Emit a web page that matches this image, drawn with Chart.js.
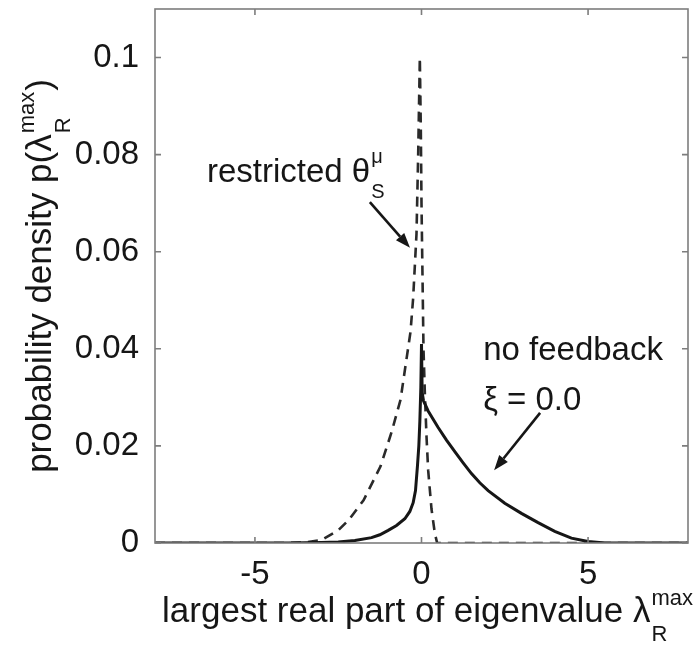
<!DOCTYPE html>
<html>
<head>
<meta charset="utf-8">
<script src="https://cdn.jsdelivr.net/npm/chart.js@4.4.1/dist/chart.umd.min.js"></script>
<style>
  html, body { margin: 0; padding: 0; background: #ffffff; }
  canvas { display: block; }
</style>
</head>
<body>
<canvas id="c" width="699" height="645"></canvas>
<script>
// ---- data ----
const xTickValues = [-5, 0, 5];
const xTickLabels = ['-5', '0', '5'];
const yTickValues = [0, 0.02, 0.04, 0.06, 0.08, 0.1];
const yTickLabels = ['0', '0.02', '0.04', '0.06', '0.08', '0.1'];

// solid curve: no feedback, xi = 0.0
const noFeedbackX = [-8, -4, -3, -2.5, -2, -1.5, -1.25, -1, -0.75, -0.5, -0.35, -0.25, -0.18, -0.12, -0.08, -0.05, -0.02, 0,
                     0.02, 0.06, 0.2, 0.5, 0.75, 1.0, 1.25, 1.5, 1.75, 2.0, 2.5, 3.0, 3.5, 4.0, 4.5, 5.0, 5.5, 8];
const noFeedbackY = [0, 0, 0.0001, 0.0002, 0.0005, 0.0011, 0.0017, 0.0026, 0.0036, 0.0050, 0.0065, 0.0083, 0.0108, 0.016, 0.020, 0.025, 0.032, 0.041,
                     0.031, 0.0293, 0.0272, 0.0238, 0.0212, 0.0188, 0.0165, 0.0143, 0.0124, 0.0108, 0.0082, 0.0061, 0.0042, 0.0024, 0.0010, 0.0003, 0, 0];

// dashed curve: restricted theta_S^mu
const restrictedX = [-8, -4, -3.5, -3, -2.5, -2.19, -1.74, -1.23, -0.9, -0.63, -0.48, -0.33, -0.25, -0.15, -0.1, -0.05,
                     -0.02, 0.0, 0.03, 0.06, 0.1, 0.15, 0.2, 0.3, 0.4, 0.47, 8];
const restrictedY = [0, 0, 0.0001, 0.0006, 0.0026, 0.0047, 0.0088, 0.0158, 0.0228, 0.0295, 0.0365, 0.0435, 0.0505, 0.0637, 0.08, 0.1,
                     0.085, 0.07, 0.055, 0.04, 0.031, 0.022, 0.015, 0.007, 0.002, 0, 0];

const toPoints = (xs, ys) => xs.map((v, i) => ({ x: v, y: ys[i] }));

const FONT = '"Liberation Sans", Arial, Helvetica, sans-serif';
const INK = '#161616';
const FRAME = '#7d7d7d';

function drawScripted(ctx, x, y, size, main, sup, sub, tail, rotate) {
  ctx.save();
  ctx.translate(x, y);
  if (rotate) ctx.rotate(-Math.PI / 2);
  const small = Math.round(size * 0.62);
  ctx.font = size + 'px ' + FONT;
  const wMain = ctx.measureText(main).width;
  const wTail = tail ? ctx.measureText(tail).width : 0;
  ctx.font = small + 'px ' + FONT;
  const wSup = ctx.measureText(sup).width;
  const wSub = ctx.measureText(sub).width;
  const total = wMain + Math.max(wSup, wSub) + wTail + 2;
  let cx = -total / 2;
  ctx.fillStyle = INK;
  ctx.textBaseline = 'alphabetic';
  ctx.textAlign = 'left';
  ctx.font = size + 'px ' + FONT;
  ctx.fillText(main, cx, 0);
  cx += wMain + 1;
  ctx.font = small + 'px ' + FONT;
  ctx.fillText(sup, cx, -size * 0.48);
  ctx.fillText(sub, cx, size * 0.55);
  cx += Math.max(wSup, wSub) + 1;
  if (tail) {
    ctx.font = size + 'px ' + FONT;
    ctx.fillText(tail, cx, 0);
  }
  ctx.restore();
}

function arrow(ctx, x1, y1, x2, y2) {
  const ang = Math.atan2(y2 - y1, x2 - x1);
  const hl = 15, hw = 5.5;
  const bx = x2 - hl * Math.cos(ang), by = y2 - hl * Math.sin(ang);
  ctx.save();
  ctx.strokeStyle = INK;
  ctx.fillStyle = INK;
  ctx.lineWidth = 2.6;
  ctx.beginPath();
  ctx.moveTo(x1, y1);
  ctx.lineTo(bx, by);
  ctx.stroke();
  ctx.beginPath();
  ctx.moveTo(x2, y2);
  ctx.lineTo(bx + hw * Math.sin(ang), by - hw * Math.cos(ang));
  ctx.lineTo(bx - hw * Math.sin(ang), by + hw * Math.cos(ang));
  ctx.closePath();
  ctx.fill();
  ctx.restore();
}

const decor = {
  id: 'decor',
  beforeDraw(chart) {
    const ctx = chart.ctx;
    ctx.save();
    ctx.fillStyle = '#ffffff';
    ctx.fillRect(0, 0, chart.width, chart.height);
    ctx.restore();
  },
  afterDraw(chart) {
    const ctx = chart.ctx;
    const ca = chart.chartArea;
    const sx = chart.scales.x, sy = chart.scales.y;
    // box frame
    ctx.save();
    ctx.strokeStyle = FRAME;
    ctx.lineWidth = 1.6;
    ctx.strokeRect(ca.left, ca.top, ca.right - ca.left, ca.bottom - ca.top);
    // inward tick marks on all sides
    ctx.beginPath();
    xTickValues.forEach(v => {
      const px = sx.getPixelForValue(v);
      ctx.moveTo(px, ca.bottom); ctx.lineTo(px, ca.bottom - 6);
      ctx.moveTo(px, ca.top); ctx.lineTo(px, ca.top + 6);
    });
    yTickValues.forEach(v => {
      const py = sy.getPixelForValue(v);
      ctx.moveTo(ca.left, py); ctx.lineTo(ca.left + 6, py);
      ctx.moveTo(ca.right, py); ctx.lineTo(ca.right - 6, py);
    });
    ctx.stroke();
    ctx.restore();

    // axis titles
    drawScripted(ctx, 428, 622, 35,
      'largest real part of eigenvalue \u03bb', 'max', 'R', '', false);
    drawScripted(ctx, 51, (ca.top + ca.bottom) / 2, 35,
      'probability density p(\u03bb', 'max', 'R', ')', true);

    // annotation: restricted theta
    ctx.save();
    ctx.fillStyle = INK;
    ctx.textBaseline = 'alphabetic';
    ctx.textAlign = 'left';
    ctx.font = '33px ' + FONT;
    const rx = sx.getPixelForValue(-6.44), ry = sy.getPixelForValue(0.0744);
    ctx.fillText('restricted \u03b8', rx, ry);
    const wR = ctx.measureText('restricted \u03b8').width;
    ctx.font = '20px ' + FONT;
    ctx.fillText('\u03bc', rx + wR + 1, ry - 19);
    ctx.fillText('S', rx + wR + 1, ry + 16);
    // annotation: no feedback
    ctx.font = '33px ' + FONT;
    ctx.fillText('no feedback', sx.getPixelForValue(1.85), sy.getPixelForValue(0.0377));
    ctx.fillText('\u03be = 0.0', sx.getPixelForValue(1.85), sy.getPixelForValue(0.0274));
    ctx.restore();

    arrow(ctx, sx.getPixelForValue(-1.55), sy.getPixelForValue(0.0702),
               sx.getPixelForValue(-0.345), sy.getPixelForValue(0.0608));
    arrow(ctx, sx.getPixelForValue(3.56), sy.getPixelForValue(0.0268),
               sx.getPixelForValue(2.18), sy.getPixelForValue(0.0150));
  }
};

new Chart(document.getElementById('c'), {
  type: 'scatter',
  data: {
    datasets: [
      {
        label: 'no feedback \u03be = 0.0',
        data: toPoints(noFeedbackX, noFeedbackY),
        showLine: true,
        borderColor: INK,
        borderWidth: 3,
        pointRadius: 0,
        tension: 0,
        order: 1
      },
      {
        label: 'restricted \u03b8S\u03bc',
        data: toPoints(restrictedX, restrictedY),
        showLine: true,
        borderColor: '#2a2a2a',
        borderWidth: 2.6,
        borderDash: [10, 7],
        pointRadius: 0,
        tension: 0,
        order: 2
      }
    ]
  },
  options: {
    responsive: false,
    devicePixelRatio: 1,
    animation: false,
    layout: { padding: { left: 0, right: 11, top: 9, bottom: 0 } },
    plugins: { legend: { display: false }, tooltip: { enabled: false } },
    scales: {
      x: {
        type: 'linear',
        min: -8, max: 8,
        grid: { display: false },
        border: { display: false },
        afterBuildTicks: s => { s.ticks = xTickValues.map(v => ({ value: v })); },
        afterFit: s => { s.height = 102; s.paddingLeft = 0; s.paddingRight = 0; },
        ticks: {
          padding: 4,
          color: INK,
          font: { family: FONT, size: 33 },
          maxRotation: 0,
          callback: v => xTickLabels[xTickValues.indexOf(v)]
        }
      },
      y: {
        type: 'linear',
        min: 0, max: 0.11,
        grid: { display: false },
        border: { display: false },
        afterBuildTicks: s => { s.ticks = yTickValues.map(v => ({ value: v })); },
        afterFit: s => { s.width = 155; s.paddingTop = 0; s.paddingBottom = 0; },
        ticks: {
          padding: 8,
          color: INK,
          font: { family: FONT, size: 33 },
          callback: v => yTickLabels[yTickValues.indexOf(v)]
        }
      }
    }
  },
  plugins: [decor]
});
</script>
</body>
</html>
